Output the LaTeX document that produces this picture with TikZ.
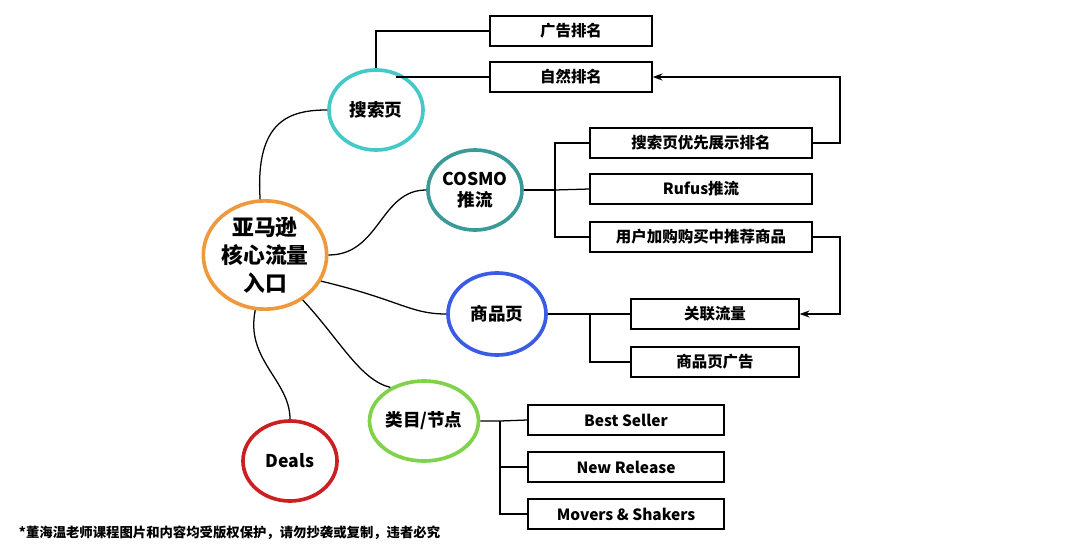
\documentclass[tikz,border=0pt]{standalone}
\usepackage{fontspec}
\setmainfont{Noto Sans CJK SC}
\usetikzlibrary{arrows.meta, positioning, shapes.geometric}

\definecolor{cOrange}{HTML}{EE9A3C}
\definecolor{cCyan}{HTML}{45C8C8}
\definecolor{cTeal}{HTML}{3A9A98}
\definecolor{cBlue}{HTML}{3A5BE6}
\definecolor{cGreen}{HTML}{7FD24A}
\definecolor{cRed}{HTML}{CC1F22}

\begin{document}
\begin{tikzpicture}[
            x=0.025cm, y=-0.025cm,
            every node/.style={font=\bfseries\fontsize{11}{13}\selectfont, align=center},
            topic/.style={draw=#1, ellipse, line width=2.6pt, minimum width=2.35cm, minimum height=2cm, inner sep=0pt, font=\bfseries\fontsize{12.5}{15}\selectfont},
            leaf/.style={draw, line width=0.9pt, minimum height=0.75cm, inner sep=0pt},
            link/.style={line width=0.9pt},
            arrow/.style={line width=0.9pt, -{Stealth[length=7pt, width=5pt]}}
        ]
        \useasboundingbox (0,0) rectangle (1080,552);

        % Centre and topics
        \node[topic=cOrange, minimum width=2.8cm, minimum height=2.65cm, font=\bfseries\fontsize{15.5}{20}\selectfont] (hub) at (265,255) {亚马逊\\核心流量\\入口};
        \node[topic=cCyan] (search) at (376,110) {搜索页};
        \node[topic=cTeal] (cosmo) at (475,190) {COSMO\\推流};
        \node[topic=cBlue, minimum width=2.45cm, minimum height=2.05cm] (product) at (497,314) {商品页};
        \node[topic=cGreen] (category) at (424,421) {类目/节点};
        \node[topic=cRed] (deals) at (290,461) {Deals};

        % Leaves
        \node[leaf, minimum width=4.05cm] (adrank) at (571,31) {广告排名};
        \node[leaf, minimum width=4.05cm] (natrank) at (571,77) {自然排名};
        \node[leaf, minimum width=5.55cm] (prio) at (701,143) {搜索页优先展示排名};
        \node[leaf, minimum width=5.55cm] (rufus) at (701,189) {Rufus推流};
        \node[leaf, minimum width=5.55cm] (cart) at (701,237) {用户加购购买中推荐商品};
        \node[leaf, minimum width=4.2cm] (related) at (715,314) {关联流量};
        \node[leaf, minimum width=4.2cm] (pagead) at (715,362) {商品页广告};
        \node[leaf, minimum width=4.9cm] (best) at (626,420) {Best Seller};
        \node[leaf, minimum width=4.9cm] (newrel) at (626,467) {New Release};
        \node[leaf, minimum width=4.9cm] (movers) at (626,514) {Movers \& Shakers};

        % Hub curves
        \draw[link] (hub.95) .. controls (255,120) and (290,110) .. (search.west);
        \draw[link] (hub.east) .. controls (380,255) and (380,190) .. (cosmo.west);
        \draw[link] (hub.-25) .. controls (400,300) and (410,314) .. (product.west);
        \draw[link] (hub.-50) .. controls (340,340) and (360,380) .. (category.135);
        \draw[link] (hub.-100) .. controls (245,360) and (290,380) .. (deals.north);

        % Search page branches
        \draw[link] (search.north) |- (adrank.west);
        \draw[link] (search.62 |- natrank.west) -- (natrank.west);

        % COSMO branches
        \draw[link] (cosmo.east) -- (555,190) coordinate (cj);
        \draw[link] (prio.west) -| (cj) |- (cart.west);
        \draw[link] (cj) -- (rufus.west);

        % Product page branches
        \draw[link] (product.east) -- (590,314) coordinate (pj) -- (related.west);
        \draw[link] (pj) |- (pagead.west);

        % Category branches
        \draw[link] (category.east) -- (500,421) coordinate (kj) -- (best.west);
        \draw[link] (kj) |- (newrel.west);
        \draw[link] (kj) |- (movers.west);

        % Feedback arrows
        \draw[arrow] (prio.east) -- (840,143) |- (natrank.east);
        \draw[arrow] (cart.east) -- (840,237) |- (related.east);

        % Footer
        \node[anchor=west, font=\bfseries\fontsize{9.5}{11}\selectfont] (note) at (14,533) {*董海温老师课程图片和内容均受版权保护，请勿抄袭或复制，违者必究};
    \end{tikzpicture}
\end{document}
